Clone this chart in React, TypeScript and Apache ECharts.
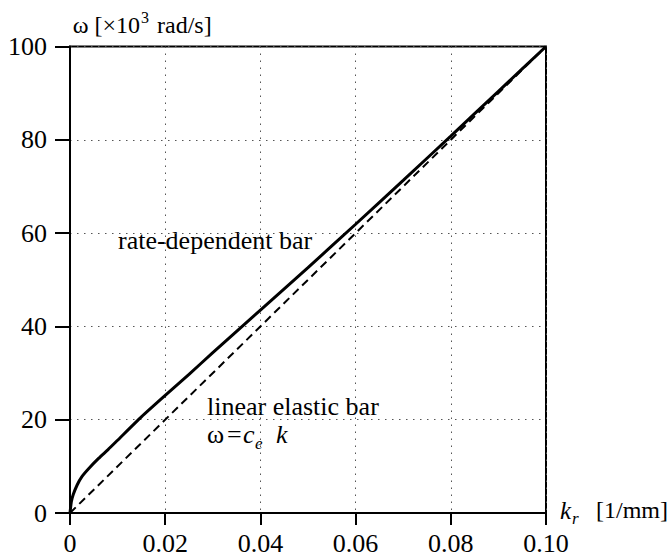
import React, { useEffect, useRef } from "react";
import * as echarts from "echarts";

const kValues = [0, 0.0003, 0.0007, 0.0015, 0.0025, 0.004, 0.006, 0.008, 0.01, 0.015, 0.02, 0.025, 0.03, 0.04, 0.05, 0.06, 0.07, 0.08, 0.09, 0.1];
const omegaRate = [0, 2.5, 4, 6, 7.8, 9.6, 11.7, 13.6, 15.6, 20.6, 25.2, 29.7, 34.4, 43.5, 52.6, 61.9, 71.3, 80.8, 90.4, 100];
const kElastic = [0, 0.1];
const omegaElastic = [0, 100];
const xTicks = [0, 0.02, 0.04, 0.06, 0.08, 0.1];
const yTicks = [0, 20, 40, 60, 80, 100];

const FONT = "Liberation Serif";

export default function App() {
  const ref = useRef<HTMLDivElement>(null);
  useEffect(() => {
    if (!ref.current) return;
    const chart = echarts.init(ref.current, undefined, { renderer: "svg" });
    const txt = (x: number, y: number, text: string, size: number, extra: any = {}) => ({
      type: "text",
      x,
      y,
      style: {
        text,
        fontSize: size,
        fontFamily: FONT,
        fill: "#000",
        verticalAlign: "middle",
        align: "left",
        ...extra,
      },
    });
    chart.setOption({
      animation: false,
      backgroundColor: "#fff",
      grid: {
        left: 70,
        right: 126,
        top: 46.5,
        bottom: 46,
        show: true,
        borderColor: "#000",
        borderWidth: 2,
        containLabel: false,
      },
      xAxis: {
        type: "value",
        min: xTicks[0],
        max: xTicks[xTicks.length - 1],
        interval: 0.02,
        axisLine: { show: true, lineStyle: { color: "#000", width: 2 } },
        axisTick: { show: true, length: 12, lineStyle: { color: "#000", width: 2 } },
        axisLabel: {
          margin: 17,
          fontSize: 26,
          fontFamily: FONT,
          color: "#000",
          formatter: (v: number) => (v === 0 ? "0" : v.toFixed(2)),
        },
        splitLine: { show: true, lineStyle: { color: "#555", width: 1, type: [1.5, 5.5] } },
      },
      yAxis: {
        type: "value",
        min: yTicks[0],
        max: yTicks[yTicks.length - 1],
        interval: 20,
        axisLine: { show: true, lineStyle: { color: "#000", width: 2 } },
        axisTick: { show: true, length: 15, lineStyle: { color: "#000", width: 2 } },
        axisLabel: {
          margin: 23,
          fontSize: 26,
          fontFamily: FONT,
          color: "#000",
        },
        splitLine: { show: true, lineStyle: { color: "#555", width: 1, type: [1.5, 5.5] } },
      },
      series: [
        {
          type: "line",
          data: kElastic.map((k, i) => [k, omegaElastic[i]]),
          showSymbol: false,
          symbol: "none",
          lineStyle: { color: "#000", width: 2, type: [8, 5] },
          silent: true,
        },
        {
          type: "line",
          data: kValues.map((k, i) => [k, omegaRate[i]]),
          showSymbol: false,
          symbol: "none",
          smooth: 0.2,
          lineStyle: { color: "#000", width: 3 },
          silent: true,
        },
      ],
      graphic: [
        txt(140, 25, "ω [×10", 24, { align: "right" }),
        txt(141, 17, "3", 16),
        txt(157, 25, "rad/s]", 24),
        txt(560, 510, "k", 25, { fontStyle: "italic" }),
        txt(572, 518, "r", 17, { fontStyle: "italic" }),
        txt(668, 510, "[1/mm]", 24, { align: "right" }),
        txt(118, 240, "rate-dependent bar", 26),
        txt(207, 406, "linear elastic bar", 26),
        txt(207, 434, "ω", 26),
        txt(227, 434, "=", 26),
        txt(243, 434, "c", 26, { fontStyle: "italic" }),
        txt(255, 443, "e", 17, { fontStyle: "italic" }),
        txt(276, 434, "k", 26, { fontStyle: "italic" }),
      ],
    });
    return () => chart.dispose();
  }, []);
  return (
    <div
      ref={ref}
      style={{ position: "fixed", left: 0, top: 0, width: 672, height: 559, background: "#fff" }}
    />
  );
}
